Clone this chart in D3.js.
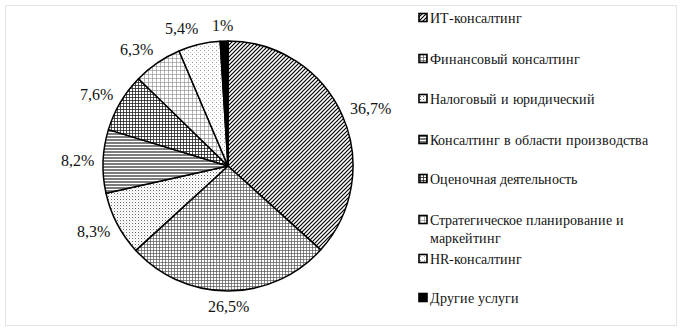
<!DOCTYPE html>
<html><head><meta charset="utf-8">
<script src="https://cdn.jsdelivr.net/npm/d3@7"></script>
<style>
@font-face { font-family: "ChartSerif"; src: local("Liberation Serif"), local("LiberationSerif"), local("LiberationSerif-Regular"), local("Times New Roman"), local("DejaVu Serif"); }
body{margin:0;background:#fff}
</style>
</head><body>
<svg id="c" width="682" height="332" font-family="ChartSerif"></svg>
<script>
const categories = ["ИТ-консалтинг","Финансовый консалтинг","Налоговый и юридический","Консалтинг в области производства","Оценочная деятельность","Стратегическое планирование и маркейтинг","HR-консалтинг","Другие услуги"];
const legendLines = [["ИТ-консалтинг"],["Финансовый консалтинг"],["Налоговый и юридический"],["Консалтинг в области производства"],["Оценочная деятельность"],["Стратегическое планирование и","маркейтинг"],["HR-консалтинг"],["Другие услуги"]];
const values = [36.7,26.5,8.3,8.2,7.6,6.3,5.4,1];
const labels = ["36,7%","26,5%","8,3%","8,2%","7,6%","6,3%","5,4%","1%"];
const patternIds = ["pDiag","pFineGrid","pDots","pHoriz","pGrid","pLightGrid","pSparseDots","pSolid"];

const svg = d3.select("#c");
svg.append("rect").attr("x",5.5).attr("y",5.5).attr("width",671).attr("height",320)
  .attr("fill","#fff").attr("stroke","#e4e4e4").attr("stroke-width",1);

const defs = svg.append("defs");
function pat(id,w,h,fn){const p=defs.append("pattern").attr("id",id).attr("patternUnits","userSpaceOnUse").attr("width",w).attr("height",h);p.append("rect").attr("width",w).attr("height",h).attr("fill","#fff");fn(p);}
pat("pDiag",4,4,p=>{p.append("path").attr("d","M-1,1 L1,-1 M0,4 L4,0 M3,5 L5,3").attr("stroke","#000").attr("stroke-width",1.2);});
pat("pFineGrid",3,3,p=>{p.append("path").attr("d","M0,0.5 H3 M0.5,0 V3").attr("stroke","#555").attr("stroke-width",0.7);});
pat("pDots",3,3,p=>{p.append("rect").attr("x",0).attr("y",0).attr("width",1).attr("height",1).attr("fill","#666");p.append("rect").attr("x",1.5).attr("y",1.5).attr("width",0.8).attr("height",0.8).attr("fill","#aaa");});
pat("pHoriz",3,3,p=>{p.append("path").attr("d","M0,1 H3").attr("stroke","#111").attr("stroke-width",1.1);});
pat("pGrid",3,3,p=>{p.append("path").attr("d","M0,0.5 H3 M0.5,0 V3").attr("stroke","#222").attr("stroke-width",0.8);});
pat("pLightGrid",4,4,p=>{p.append("path").attr("d","M0,0.5 H4 M0.5,0 V4").attr("stroke","#888").attr("stroke-width",0.6);});
pat("pSparseDots",4,4,p=>{p.append("rect").attr("x",0).attr("y",0).attr("width",1).attr("height",1).attr("fill","#999");p.append("rect").attr("x",2).attr("y",2).attr("width",1).attr("height",1).attr("fill","#ccc");});
pat("pSolid",2,2,p=>{p.append("rect").attr("width",2).attr("height",2).attr("fill","#000");});

const cx=228, cy=166, r=125;
const data = categories.map((c,i)=>({name:c,value:values[i],label:labels[i],pat:patternIds[i]}));
const pie = d3.pie().sort(null).value(d=>d.value);
const arcs = pie(data);
const arc = d3.arc().innerRadius(0).outerRadius(r);
const g = svg.append("g").attr("transform",`translate(${cx},${cy})`);
g.selectAll("path").data(arcs).join("path").attr("d",arc)
  .attr("fill",d=>`url(#${d.data.pat})`).attr("stroke","#000").attr("stroke-width",1.5).attr("stroke-linejoin","round");

const R0=135;
arcs.forEach(a=>{
  const th=(a.startAngle+a.endAngle)/2;
  const s=Math.sin(th), c=Math.cos(th);
  const w=a.data.label.length*7.6;
  const k=Math.max(-1,Math.min(1,5*s));
  svg.append("text").style("font-family","ChartSerif").style("font-size","16px").attr("fill","#111")
    .attr("text-anchor","middle")
    .attr("x",cx+R0*s+w/2*k).attr("y",cy-R0*c-6*c+5.5).text(a.data.label);
});

const rowY=[18,59,99,140,179,220,259,298];
legendLines.forEach((lines,i)=>{
  svg.append("rect").attr("x",419).attr("y",rowY[i]-4.5).attr("width",8).attr("height",8)
    .attr("fill",`url(#${patternIds[i]})`).attr("stroke","#000").attr("stroke-width",1.6);
  lines.forEach((ln,j)=>{
    svg.append("text").attr("x",430).attr("y",rowY[i]+j*18+5).attr("fill","#111")
      .style("font-family","ChartSerif").style("font-size","14px").text(ln);
  });
});
</script>
</body></html>
